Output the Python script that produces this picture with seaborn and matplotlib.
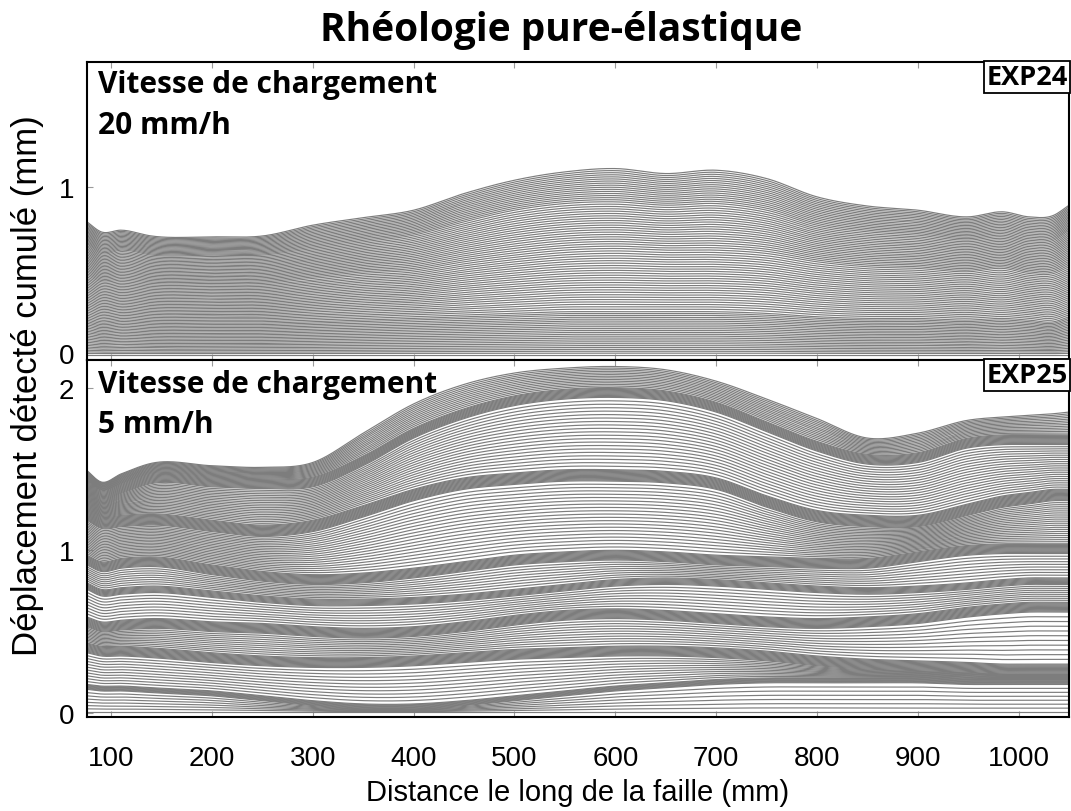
import numpy as np
import pandas as pd
import matplotlib
matplotlib.use("Agg")
import matplotlib.pyplot as plt
import seaborn as sns

# Along-fault sampling positions (mm) at which the reference profiles are given
X_NODES = [76, 90, 110, 140, 200, 250, 300, 350, 400, 450, 500, 550,
           600, 650, 700, 750, 800, 850, 900, 950, 985, 1010, 1035, 1050]

# ---- EXP24 (20 mm/h): guide profiles of cumulative slip, bottom to top (mm)
EXP24_BASE = [-0.01] * 24
EXP24_L1 = [0.21, 0.19, 0.20, 0.19, 0.19, 0.19, 0.20, 0.21, 0.22, 0.23, 0.24, 0.25,
            0.25, 0.25, 0.25, 0.24, 0.22, 0.21, 0.21, 0.20, 0.21, 0.20, 0.19, 0.22]
EXP24_L2 = [0.47, 0.43, 0.44, 0.42, 0.42, 0.42, 0.45, 0.48, 0.50, 0.55, 0.59, 0.62,
            0.63, 0.62, 0.62, 0.60, 0.55, 0.52, 0.51, 0.49, 0.51, 0.48, 0.48, 0.52]
EXP24_L3 = [0.66, 0.60, 0.62, 0.59, 0.59, 0.59, 0.63, 0.67, 0.71, 0.79, 0.86, 0.90,
            0.91, 0.89, 0.90, 0.86, 0.77, 0.73, 0.71, 0.68, 0.70, 0.67, 0.68, 0.74]
EXP24_TOP = [0.79, 0.73, 0.74, 0.705, 0.70, 0.705, 0.77, 0.815, 0.86, 0.96, 1.04, 1.09,
             1.11, 1.08, 1.10, 1.05, 0.94, 0.885, 0.86, 0.82, 0.85, 0.82, 0.83, 0.89]
# number of event profiles recorded between consecutive guide profiles
EXP24_COUNTS = [22, 25, 19, 15]

# ---- EXP25 (5 mm/h): guide profiles (centre of each dense band), bottom to top
EXP25_BASE = [0.005] * 24
EXP25_G = [0.16, 0.15, 0.15, 0.14, 0.12, 0.09, 0.06, 0.04, 0.04, 0.06, 0.09, 0.12,
           0.15, 0.17, 0.19, 0.20, 0.20, 0.20, 0.20, 0.19, 0.19, 0.19, 0.19, 0.19]
EXP25_F = [0.40, 0.38, 0.38, 0.37, 0.34, 0.32, 0.31, 0.31, 0.32, 0.34, 0.36, 0.37,
           0.38, 0.38, 0.37, 0.35, 0.32, 0.30, 0.29, 0.28, 0.27, 0.27, 0.27, 0.27]
EXP25_E = [0.56, 0.53, 0.54, 0.55, 0.53, 0.52, 0.50, 0.49, 0.50, 0.53, 0.57, 0.60,
           0.61, 0.60, 0.58, 0.56, 0.55, 0.56, 0.58, 0.62, 0.64, 0.65, 0.65, 0.65]
EXP25_D = [0.78, 0.74, 0.75, 0.76, 0.73, 0.70, 0.68, 0.68, 0.69, 0.71, 0.74, 0.77,
           0.80, 0.81, 0.80, 0.78, 0.76, 0.75, 0.76, 0.78, 0.80, 0.81, 0.81, 0.81]
EXP25_C = [0.94, 0.90, 0.92, 0.93, 0.88, 0.84, 0.82, 0.83, 0.86, 0.90, 0.94, 0.96,
           0.97, 0.96, 0.94, 0.93, 0.92, 0.92, 0.96, 1.00, 1.01, 1.01, 1.01, 1.01]
EXP25_B = [1.22, 1.17, 1.18, 1.19, 1.15, 1.12, 1.15, 1.24, 1.34, 1.41, 1.44, 1.46,
           1.46, 1.45, 1.41, 1.30, 1.21, 1.18, 1.18, 1.25, 1.30, 1.32, 1.34, 1.34]
EXP25_A = [1.40, 1.34, 1.38, 1.44, 1.42, 1.41, 1.42, 1.55, 1.72, 1.84, 1.92, 1.96,
           1.97, 1.95, 1.88, 1.76, 1.64, 1.56, 1.57, 1.66, 1.68, 1.68, 1.68, 1.68]
EXP25_TOP = [1.49, 1.42, 1.47, 1.535, 1.52, 1.51, 1.54, 1.72, 1.90, 2.02, 2.09, 2.12,
             2.13, 2.11, 2.04, 1.93, 1.81, 1.69, 1.72, 1.80, 1.82, 1.83, 1.84, 1.85]
EXP25_BANDS = [EXP25_G, EXP25_F, EXP25_E, EXP25_D, EXP25_C, EXP25_B, EXP25_A]
EXP25_BAND_HALF = [0.015, 0.03, 0.03, 0.02, 0.03, 0.035, 0.03]   # half thickness (mm)
EXP25_BAND_COUNTS = [6, 10, 10, 6, 10, 12, 10]
EXP25_GAP_COUNTS = [6, 10, 10, 8, 8, 20, 20, 12]   # below G, G-F, ..., A-top

PANELS = [
    {"exp": "EXP24", "rate": "Vitesse de chargement\n20 mm/h", "ylim": (-0.04, 1.75),
     "yticks": [0, 1]},
    {"exp": "EXP25", "rate": "Vitesse de chargement\n5 mm/h", "ylim": (-0.025, 2.17),
     "yticks": [0, 1, 2]},
]
XTICKS = [100, 200, 300, 400, 500, 600, 700, 800, 900, 1000]
LINE_COLOR = "#7d7d7d"


def hermite(xn, yn, xd):
    """Smooth cubic Hermite curve through the node values."""
    xn = np.asarray(xn, float)
    yn = np.asarray(yn, float)
    m = np.gradient(yn, xn)
    i = np.clip(np.searchsorted(xn, xd, side="right") - 1, 0, len(xn) - 2)
    h = xn[i + 1] - xn[i]
    t = (xd - xn[i]) / h
    t2, t3 = t * t, t * t * t
    return ((2 * t3 - 3 * t2 + 1) * yn[i] + (t3 - 2 * t2 + t) * h * m[i]
            + (-2 * t3 + 3 * t2) * yn[i + 1] + (t3 - t2) * h * m[i + 1])


def stack_profiles(guides, counts):
    guides = [np.asarray(g, float) for g in guides]
    out = [guides[0]]
    for lo, hi, n in zip(guides[:-1], guides[1:], counts):
        for k in range(1, n + 1):
            w = k / (n + 1)
            out.append(lo + w * (hi - lo))
        out.append(hi)
    return out


def to_frame(profiles):
    xd = np.linspace(X_NODES[0], X_NODES[-1], 500)
    rows = []
    for j, p in enumerate(profiles):
        rows.append(pd.DataFrame({"x": xd, "y": hermite(X_NODES, p, xd), "event": j}))
    return pd.concat(rows, ignore_index=True)


# EXP24 profiles
exp24 = stack_profiles([EXP24_BASE, EXP24_L1, EXP24_L2, EXP24_L3, EXP24_TOP], EXP24_COUNTS)

# EXP25 profiles: dense bands separated by sparser series
guides25 = [EXP25_BASE]
counts25 = []
for band, half, nb, ng in zip(EXP25_BANDS, EXP25_BAND_HALF, EXP25_BAND_COUNTS, EXP25_GAP_COUNTS):
    b = np.asarray(band, float)
    guides25 += [b - half, b + half]
    counts25 += [ng, nb]
guides25.append(EXP25_TOP)
counts25.append(EXP25_GAP_COUNTS[-1])
exp25 = stack_profiles(guides25, counts25)

sns.set_theme(style="white")
plt.rcParams["font.family"] = ["Liberation Sans", "DejaVu Sans"]
plt.rcParams.update({"text.color": "black", "axes.labelcolor": "black",
                     "xtick.labelcolor": "black", "ytick.labelcolor": "black"})

fig = plt.figure(figsize=(10.71, 8.12), dpi=100)
ax_top = fig.add_axes([0.0812, 0.5554, 0.917, 0.367])
ax_bot = fig.add_axes([0.0812, 0.1158, 0.917, 0.4396])

for ax, panel, profs in zip([ax_top, ax_bot], PANELS, [exp24, exp25]):
    df = to_frame(profs)
    sns.lineplot(data=df, x="x", y="y", units="event", estimator=None, sort=False,
                 color=LINE_COLOR, lw=0.85, legend=False, ax=ax)
    ax.set_xlim(X_NODES[0], X_NODES[-1])
    ax.set_ylim(*panel["ylim"])
    ax.set_xticks(XTICKS)
    ax.set_yticks(panel["yticks"])
    ax.set_xlabel("")
    ax.set_ylabel("")
    for s in ax.spines.values():
        s.set_color("black")
        s.set_linewidth(1.5)
    ax.tick_params(axis="x", direction="in", top=True, bottom=True, length=4,
                   width=0.8, color="#9a9a9a", labelcolor="black", labelsize=20, pad=20)
    ax.tick_params(axis="y", direction="in", left=True, length=4, width=0.8,
                   color="#9a9a9a", labelcolor="black", labelsize=20, pad=9)
    ax.text(0.011, 0.975, panel["rate"], transform=ax.transAxes, ha="left", va="top",
            fontsize=21.5, fontweight="bold", family="Open Sans", linespacing=1.45,
            color="black")
    ax.text(0.9985, 0.994, panel["exp"], transform=ax.transAxes, ha="right", va="top",
            fontsize=19.5, fontweight="bold", family="Open Sans", color="black",
            bbox=dict(boxstyle="square,pad=0.1", fc="white", ec="black", lw=1.3))

ax_top.tick_params(axis="x", labelbottom=False)
ax_bot.set_xlabel("Distance le long de la faille (mm)", fontsize=21, color="black")
ax_bot.xaxis.set_label_coords(0.5, -0.17)

fig.text(0.026, 0.525, "Déplacement détecté cumulé (mm)", rotation=90,
         ha="center", va="center", fontsize=25, color="black")
fig.text(0.524, 0.962, "Rhéologie pure-élastique", ha="center", va="center",
         fontsize=28, fontweight="bold", family="Open Sans", color="black")

fig.savefig("out.png", dpi=100)
